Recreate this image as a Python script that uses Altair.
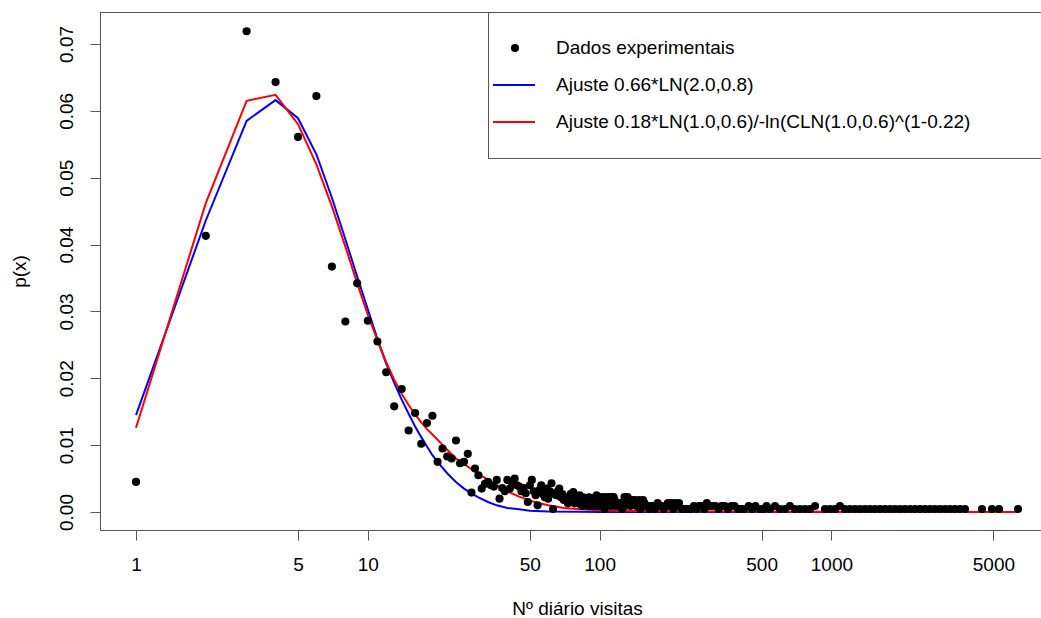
import altair as alt
import pandas as pd

# ---------------- data ----------------
obs_x = list(range(1, 101)) + [
    101, 102, 103, 104, 105, 106, 107, 108, 109, 110, 111, 112, 113, 114, 115, 116,
    117, 119, 121, 123, 125, 126, 128, 129, 131, 132, 134,
    136, 138, 140, 142, 144, 146, 148, 150, 152, 154, 156, 158,
    161, 164, 167, 170, 173, 178, 181, 185, 189, 193,
    197, 200, 204, 208, 212, 216, 220, 226, 233, 240, 247,
    255, 262, 268, 275, 283, 290, 298, 306, 316, 326, 336, 347, 358, 370, 382, 395,
    408, 420, 440, 455, 470, 492, 510, 525,
    543, 571, 600, 630, 662, 696, 732, 769, 808, 850,
    938, 986, 1036, 1089, 1145, 1203, 1265, 1328, 1396, 1467, 1542, 1620, 1703,
    1790, 1880, 1977, 2077, 2183, 2294, 2411, 2534, 2663, 2799, 2941, 3091, 3248,
    3413, 3588, 3770, 4463, 4929, 5285, 6384]
obs_p = [
    0.0045, 0.0413, 0.0719, 0.0643, 0.0561, 0.0622, 0.0367, 0.0285, 0.0342, 0.0286,
    0.0255, 0.0209, 0.0158, 0.0184, 0.0122, 0.0148, 0.0102, 0.0133, 0.0144, 0.0075,
    0.0095, 0.0083, 0.0080, 0.0107, 0.0073, 0.0075, 0.0087, 0.0029, 0.0065, 0.0055,
    0.0035, 0.0042, 0.0045, 0.0040, 0.0038, 0.0048, 0.0020, 0.0036, 0.0031, 0.0048,
    0.0035, 0.0043, 0.0050, 0.0040, 0.0038, 0.0031, 0.0036, 0.0028, 0.0015, 0.0040,
    0.0048, 0.0031, 0.0025, 0.0010, 0.0033, 0.0040, 0.0027, 0.0022, 0.0035, 0.0020,
    0.0031, 0.0043, 0.00045, 0.0027, 0.0025, 0.0031, 0.0035, 0.0022, 0.0027, 0.0018,
    0.0022, 0.0018, 0.0013, 0.0022, 0.0027, 0.0018, 0.0030, 0.0013, 0.0022, 0.0018,
    0.0013, 0.0025, 0.0018, 0.0009, 0.0022, 0.0013, 0.0018, 0.0018, 0.0009, 0.0022,
    0.0013, 0.0009, 0.0018, 0.0013, 0.0009, 0.0022, 0.0025, 0.0013, 0.0009, 0.0018,
    0.0009, 0.00225, 0.00135, 0.0018, 0.00045, 0.00225, 0.0009, 0.0018, 0.00135, 0.00225, 0.0018, 0.0009, 0.00225, 0.00135, 0.00225, 0.0018,
    0.0009, 0.00135, 0.0009, 0.00135, 0.00045, 0.0009, 0.00225, 0.0009, 0.00135, 0.00225, 0.0018,
    0.0009, 0.0018, 0.00135, 0.0018, 0.0009, 0.00135, 0.0018, 0.00045, 0.0009, 0.0018, 0.00135, 0.0009,
    0.0009, 0.00045, 0.0009, 0.0009, 0.00045, 0.00135, 0.0009, 0.0009, 0.00045, 0.0009,
    0.00135, 0.0009, 0.00135, 0.00045, 0.00135, 0.0009, 0.00135, 0.00045, 0.00045, 0.00045, 0.00045,
    0.0009, 0.00045, 0.0009, 0.0009, 0.00045, 0.00135, 0.0009, 0.0009, 0.0009, 0.00045, 0.0009, 0.0009, 0.00045, 0.0009, 0.0009, 0.00045,
    0.00045, 0.00045, 0.0009, 0.00045, 0.0009, 0.00045, 0.00045, 0.0009,
    0.00045, 0.0009, 0.00045, 0.00045, 0.0009, 0.00045, 0.00045, 0.00045, 0.00045, 0.0009,
    0.00045, 0.00045, 0.00045, 0.0009, 0.00045, 0.00045, 0.00045, 0.00045, 0.00045, 0.00045, 0.00045, 0.00045, 0.00045,
    0.00045, 0.00045, 0.00045, 0.00045, 0.00045, 0.00045, 0.00045, 0.00045, 0.00045, 0.00045, 0.00045, 0.00045, 0.00045,
    0.00045, 0.00045, 0.00045, 0.00045, 0.00045, 0.00045, 0.00045]

blue_x = [1, 2, 3, 4, 5, 6, 7, 8, 9, 10, 11, 12, 13, 14, 15, 16, 17, 18, 19, 20,
          22, 24, 26, 28, 30, 33, 36, 40, 45, 50, 60, 80, 100, 6384]
blue_p = [0.0145, 0.0436, 0.0585, 0.0616, 0.0589, 0.0535, 0.0470, 0.0408, 0.0352, 0.0303,
          0.0259, 0.0222, 0.0193, 0.0168, 0.0147, 0.0128, 0.0112, 0.0098, 0.0085, 0.0075,
          0.0058, 0.0045, 0.0035, 0.0028, 0.0022, 0.0015, 0.0010, 0.0006, 0.0004, 0.0002,
          0.00008, 0.00003, 0.00001, 0.0]

red_x = [1, 2, 3, 4, 5, 6, 7, 8, 9, 10, 11, 12, 13, 14, 15, 16, 17, 18, 19, 20,
         22, 24, 26, 28, 30, 33, 36, 40, 45, 50, 55, 60, 70, 80, 95, 120, 200, 400, 1000, 6384]
red_p = [0.0126, 0.0462, 0.0615, 0.0624, 0.0580, 0.0520, 0.0457, 0.0397, 0.0342, 0.0295,
         0.0257, 0.0224, 0.0198, 0.0177, 0.0160, 0.0146, 0.0134, 0.0124, 0.0116, 0.0108,
         0.0093, 0.0080, 0.0072, 0.0064, 0.0057, 0.0048, 0.0040, 0.0031, 0.0023, 0.0017,
         0.0013, 0.0010, 0.0006, 0.00045, 0.0003, 0.0002, 0.00012, 0.00007, 0.00004, 0.00002]

x_ticks = [1, 5, 10, 50, 100, 500, 1000, 5000]
y_ticks = [0.0, 0.01, 0.02, 0.03, 0.04, 0.05, 0.06, 0.07]

legend_labels = ["Dados experimentais",
                 "Ajuste 0.66*LN(2.0,0.8)",
                 "Ajuste 0.18*LN(1.0,0.6)/-ln(CLN(1.0,0.6)^(1-0.22)"]

# ---------------- chart ----------------
W, H = 941, 518
FONT = "Liberation Sans"
FS = 19
AX = "#555555"

df_obs = pd.DataFrame({"x": obs_x, "p": obs_p})
df_blue = pd.DataFrame({"x": blue_x, "p": blue_p})
df_red = pd.DataFrame({"x": red_x, "p": red_p})
one = pd.DataFrame({"a": [0]})

xscale = alt.Scale(type="log", domain=[0.6993, 8020], nice=False)
yscale = alt.Scale(domain=[-0.00269, 0.07478], nice=False, zero=False)

x_axis = alt.Axis(values=x_ticks, format="d", title="Nº diário visitas", grid=False,
                  labelPadding=15, labelBaseline="top", labelFlush=False,
                  titleX=477, titleY=84, titleBaseline="alphabetic", titleAlign="center")
y_axis = alt.Axis(values=y_ticks, format=".2f", title="p(x)", grid=False,
                  labelAngle=270, labelAlign="center", labelBaseline="alphabetic",
                  labelPadding=18, labelFlush=False,
                  titleAngle=270, titleAlign="center", titleBaseline="alphabetic",
                  titleX=-75, titleY=259)


def enc(chart):
    return chart.encode(
        x=alt.X("x:Q", scale=xscale, axis=x_axis),
        y=alt.Y("p:Q", scale=yscale, axis=y_axis),
    )


blue_line = enc(alt.Chart(df_blue).mark_line(color="#0000ff", strokeWidth=2))
red_line = enc(alt.Chart(df_red).mark_line(color="#ff0000", strokeWidth=2))
points = enc(alt.Chart(df_obs).mark_circle(size=66, color="black", opacity=1))

top_rule = alt.Chart(one).mark_rule(color=AX, strokeWidth=1).encode(
    x=alt.value(0), x2=alt.value(W), y=alt.value(0.5))

leg_box = alt.Chart(one).mark_rect(fill="white", stroke=AX, strokeWidth=1).encode(
    x=alt.value(388.5), x2=alt.value(W + 20), y=alt.value(0.5), y2=alt.value(146.5))
leg_pt = alt.Chart(one).mark_circle(size=66, color="black", opacity=1).encode(
    x=alt.value(415), y=alt.value(36))
leg_blue = alt.Chart(one).mark_rule(color="#0000ff", strokeWidth=2).encode(
    x=alt.value(393), x2=alt.value(435), y=alt.value(73))
leg_red = alt.Chart(one).mark_rule(color="#ff0000", strokeWidth=2).encode(
    x=alt.value(393), x2=alt.value(435), y=alt.value(110))


def leg_text(txt, y):
    return alt.Chart(one).mark_text(align="left", baseline="middle", font=FONT,
                                    fontSize=FS, color="black", text=txt).encode(
        x=alt.value(456), y=alt.value(y))


chart = alt.layer(
    blue_line, red_line, points, top_rule,
    leg_box, leg_pt, leg_blue, leg_red,
    leg_text(legend_labels[0], 36), leg_text(legend_labels[1], 73), leg_text(legend_labels[2], 110),
).properties(
    width=W, height=H,
    padding={"left": 100, "top": 12, "right": 0, "bottom": 88},
    autosize=alt.AutoSizeParams(type="none"),
    background="white",
).configure_view(stroke=None).configure_axis(
    labelFont=FONT, labelFontSize=FS, labelColor="black",
    titleFont=FONT, titleFontSize=FS, titleColor="black", titleFontWeight="normal",
    tickColor=AX, domainColor=AX, tickSize=10, tickWidth=1, domainWidth=1,
)

chart.save("out.html", embed_options={"renderer": "svg", "actions": False})
